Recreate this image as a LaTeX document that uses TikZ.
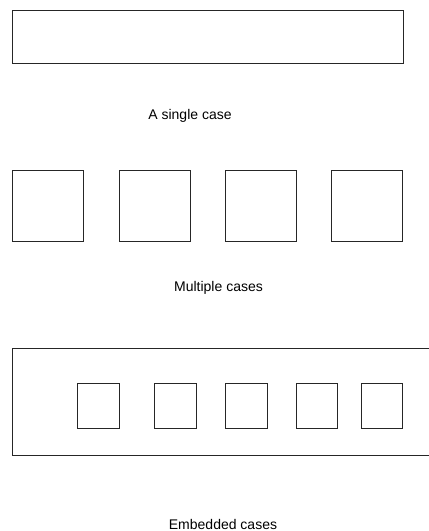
\documentclass[tikz,border=0pt]{standalone}
\usepackage{fontspec}
\setmainfont{Liberation Sans}
\begin{document}
\begin{tikzpicture}[x=1pt,y=-1pt,
  casebox/.style={draw=black!85, line width=0.9pt, fill=none},
  caption/.style={anchor=base, inner sep=0pt, font=\fontsize{14}{16}\selectfont}]
\useasboundingbox (0,0) rectangle (429,531);
% single case
\draw[casebox] (12.7,10) rectangle (403,63.3);
\node[caption] (l1) at (190,119.5) {A single case};
% multiple cases
\draw[casebox] (12.7,170) rectangle (83.3,241);
\draw[casebox] (119,170) rectangle (190,241);
\draw[casebox] (225.5,170) rectangle (296.5,241);
\draw[casebox] (331.5,170) rectangle (402.5,241);
\node[caption] (l2) at (218.5,291.5) {Multiple cases};
% embedded cases
\draw[casebox] (12.7,348) -- (430,348);
\draw[casebox] (12.7,348) -- (12.7,455) -- (430,455);
\draw[casebox] (77.3,383.3) rectangle (119.3,428.3);
\draw[casebox] (154.3,383.3) rectangle (196,428.3);
\draw[casebox] (225.3,383.3) rectangle (267,428.3);
\draw[casebox] (296.3,383.3) rectangle (337.7,428.3);
\draw[casebox] (361.3,383.3) rectangle (402.7,428.3);
\node[caption] (l3) at (223,529) {Embedded cases};
\end{tikzpicture}
\end{document}
